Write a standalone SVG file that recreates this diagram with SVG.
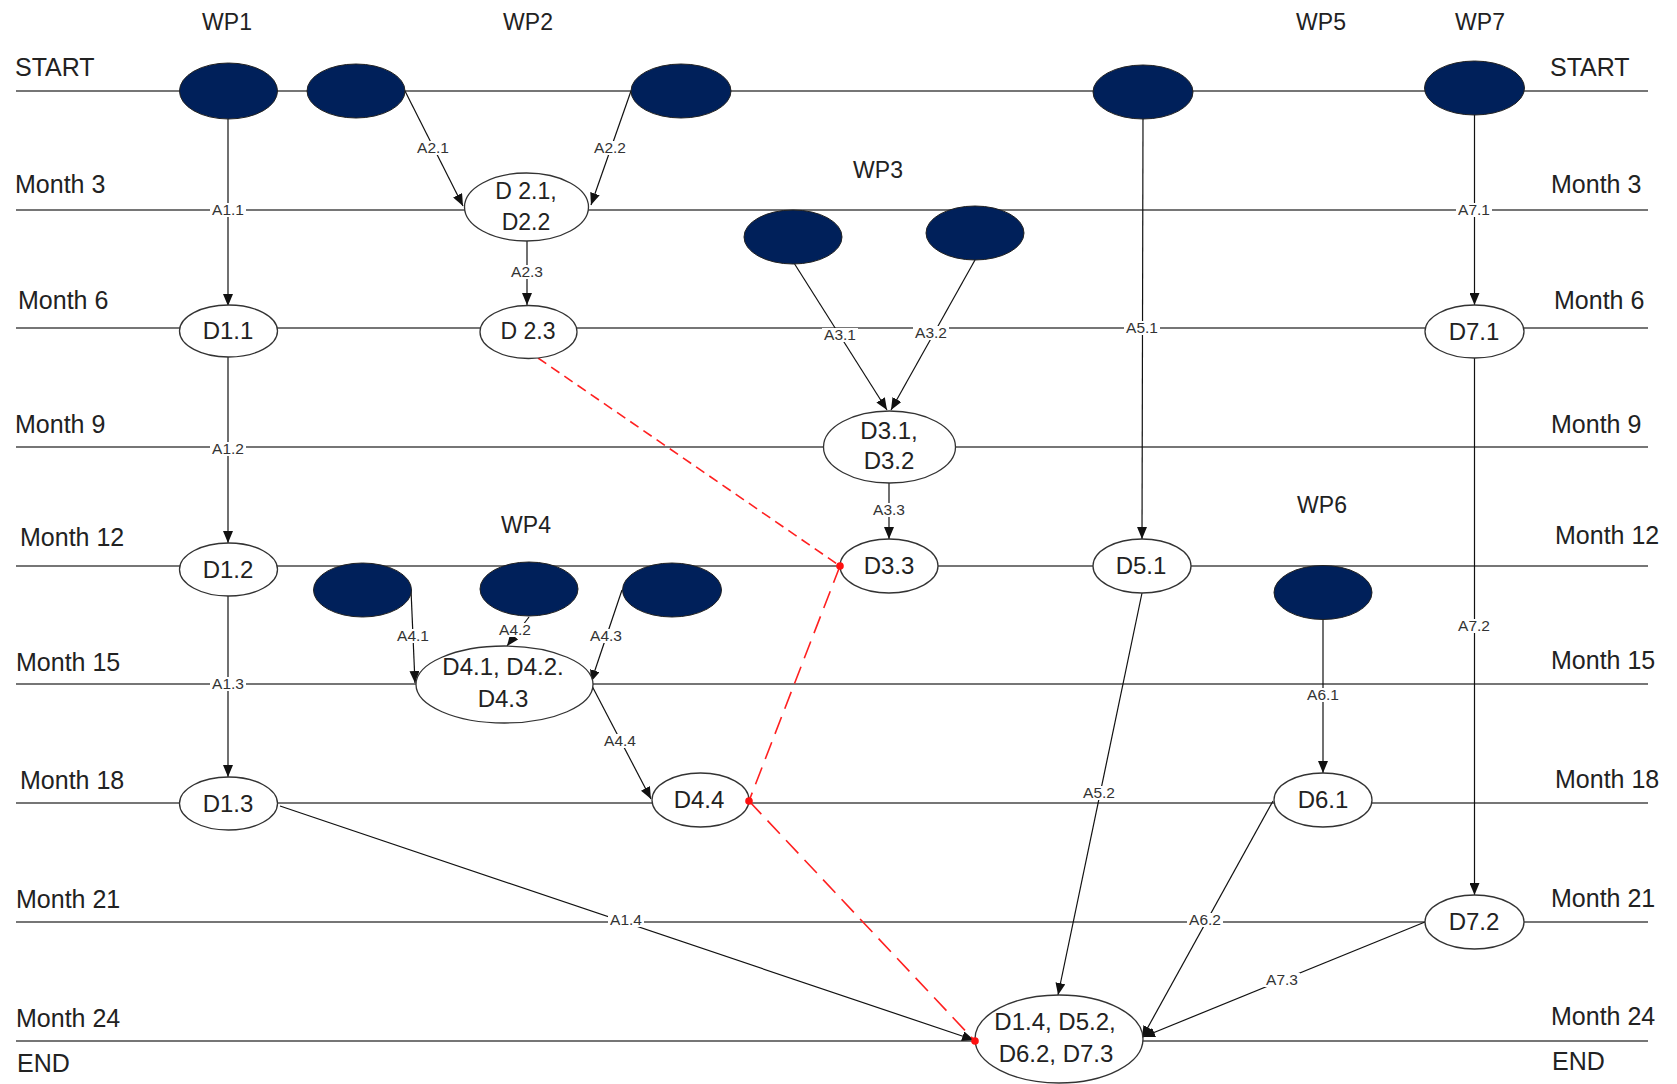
<svg xmlns="http://www.w3.org/2000/svg" width="1677" height="1084" viewBox="0 0 1677 1084">
<defs>
<marker id="ah" markerUnits="userSpaceOnUse" markerWidth="12" markerHeight="10" viewBox="0 0 12 10" refX="12" refY="5" orient="auto">
<path d="M0,0 L12,5 L0,10 Z" fill="#111"/>
</marker>
</defs>
<style>
.row{stroke:#4a4a4a;stroke-width:1.6;fill:none}
.big{font-family:"Liberation Sans",Arial,sans-serif;font-size:25px;fill:#222}
.wp{font-family:"Liberation Sans",Arial,sans-serif;font-size:23px;fill:#222;text-anchor:middle}
.dk{fill:#00205a;stroke:#222;stroke-width:1}
.wt{fill:#fff;stroke:#333;stroke-width:1.3}
.nt{font-family:"Liberation Sans",Arial,sans-serif;font-size:24px;fill:#222;text-anchor:middle}
.cn{stroke:#111;stroke-width:1.2;fill:none;marker-end:url(#ah)}
.cl{font-family:"Liberation Sans",Arial,sans-serif;font-size:15.5px;fill:#333;text-anchor:middle}
.lb{fill:#fff}
.rd{stroke:#ff2020;stroke-width:1.6;fill:none}
.dot{fill:#ff1010}
</style>
<g id="timeline">
<path class="row" d="M16,91H1648M16,210H1648M16,328H1648M16,447H1648M16,566H1648M16,684H1648M16,803H1648M16,922H1648M16,1041H1648"/>
<text class="big" x="15" y="76">START</text>
<text class="big" x="15" y="193">Month 3</text>
<text class="big" x="18" y="309">Month 6</text>
<text class="big" x="15" y="433">Month 9</text>
<text class="big" x="20" y="546">Month 12</text>
<text class="big" x="16" y="671">Month 15</text>
<text class="big" x="20" y="789">Month 18</text>
<text class="big" x="16" y="908">Month 21</text>
<text class="big" x="16" y="1027">Month 24</text>
<text class="big" x="17" y="1072">END</text>
<text class="big" x="1550" y="76">START</text>
<text class="big" x="1551" y="193">Month 3</text>
<text class="big" x="1554" y="309">Month 6</text>
<text class="big" x="1551" y="433">Month 9</text>
<text class="big" x="1555" y="544">Month 12</text>
<text class="big" x="1551" y="669">Month 15</text>
<text class="big" x="1555" y="788">Month 18</text>
<text class="big" x="1551" y="907">Month 21</text>
<text class="big" x="1551" y="1025">Month 24</text>
<text class="big" x="1552" y="1070">END</text>
<text class="wp" x="227" y="30">WP1</text>
<text class="wp" x="528" y="30">WP2</text>
<text class="wp" x="878" y="178">WP3</text>
<text class="wp" x="526" y="533">WP4</text>
<text class="wp" x="1321" y="30">WP5</text>
<text class="wp" x="1322" y="513">WP6</text>
<text class="wp" x="1480" y="30">WP7</text>
</g>
<g id="connectors">
<path class="cn" d="M228,119 L228,306"/>
<path class="cn" d="M228,357 L228,543"/>
<path class="cn" d="M228,596 L228,777"/>
<path class="cn" d="M280,806 L974,1040"/>
<path class="cn" d="M405,91 L463,206"/>
<path class="cn" d="M631,91 L591,205"/>
<path class="cn" d="M527,241 L527,305"/>
<path class="cn" d="M794,263 L887,410"/>
<path class="cn" d="M975,260 L891,410"/>
<path class="cn" d="M889,483 L889,539"/>
<path class="cn" d="M411,590 L415,683"/>
<path class="cn" d="M529,617 L507,646"/>
<path class="cn" d="M622,590 L591,682"/>
<path class="cn" d="M591,684 L651,799"/>
<path class="cn" d="M1143,119 L1142,539"/>
<path class="cn" d="M1142,593 L1058,995"/>
<path class="cn" d="M1323,619 L1323,773"/>
<path class="cn" d="M1273,801 L1142,1038"/>
<path class="cn" d="M1474.5,115 L1474.5,305"/>
<path class="cn" d="M1474.5,358 L1474.5,895"/>
<path class="cn" d="M1425,922 L1143,1037"/>
<path class="rd" stroke-dasharray="10,6" d="M538,358 L840,566"/>
<path class="rd" stroke-dasharray="18,9" d="M840,566 L749,801"/>
<path class="rd" stroke-dasharray="18,9" d="M749,801 L975,1041"/>
<g id="labels">
<rect class="lb" x="210" y="203" width="36" height="14"/><text class="cl" x="228" y="215">A1.1</text>
<rect class="lb" x="210" y="442" width="36" height="14"/><text class="cl" x="228" y="454">A1.2</text>
<rect class="lb" x="210" y="677" width="36" height="14"/><text class="cl" x="228" y="689">A1.3</text>
<rect class="lb" x="608" y="913" width="36" height="14"/><text class="cl" x="626" y="925">A1.4</text>
<rect class="lb" x="415" y="141" width="36" height="14"/><text class="cl" x="433" y="153">A2.1</text>
<rect class="lb" x="592" y="141" width="36" height="14"/><text class="cl" x="610" y="153">A2.2</text>
<rect class="lb" x="509" y="265" width="36" height="14"/><text class="cl" x="527" y="277">A2.3</text>
<rect class="lb" x="822" y="328" width="36" height="14"/><text class="cl" x="840" y="340">A3.1</text>
<rect class="lb" x="913" y="326" width="36" height="14"/><text class="cl" x="931" y="338">A3.2</text>
<rect class="lb" x="871" y="503" width="36" height="14"/><text class="cl" x="889" y="515">A3.3</text>
<rect class="lb" x="395" y="629" width="36" height="14"/><text class="cl" x="413" y="641">A4.1</text>
<rect class="lb" x="497" y="623" width="36" height="14"/><text class="cl" x="515" y="635">A4.2</text>
<rect class="lb" x="588" y="629" width="36" height="14"/><text class="cl" x="606" y="641">A4.3</text>
<rect class="lb" x="602" y="734" width="36" height="14"/><text class="cl" x="620" y="746">A4.4</text>
<rect class="lb" x="1124" y="321" width="36" height="14"/><text class="cl" x="1142" y="333">A5.1</text>
<rect class="lb" x="1081" y="786" width="36" height="14"/><text class="cl" x="1099" y="798">A5.2</text>
<rect class="lb" x="1305" y="688" width="36" height="14"/><text class="cl" x="1323" y="700">A6.1</text>
<rect class="lb" x="1187" y="913" width="36" height="14"/><text class="cl" x="1205" y="925">A6.2</text>
<rect class="lb" x="1456" y="203" width="36" height="14"/><text class="cl" x="1474" y="215">A7.1</text>
<rect class="lb" x="1456" y="619" width="36" height="14"/><text class="cl" x="1474" y="631">A7.2</text>
<rect class="lb" x="1264" y="973" width="36" height="14"/><text class="cl" x="1282" y="985">A7.3</text>
</g>
</g>
<g id="wp1-start"><ellipse class="dk" cx="228.5" cy="91" rx="49" ry="28"/></g>
<g id="wp2-start-a"><ellipse class="dk" cx="356" cy="91" rx="49" ry="27"/></g>
<g id="wp2-start-b"><ellipse class="dk" cx="681" cy="91" rx="50" ry="27"/></g>
<g id="wp5-start"><ellipse class="dk" cx="1143" cy="92" rx="50" ry="27"/></g>
<g id="wp7-start"><ellipse class="dk" cx="1474.5" cy="88" rx="50" ry="27"/></g>
<g id="wp3-start-a"><ellipse class="dk" cx="793" cy="237" rx="49" ry="27"/></g>
<g id="wp3-start-b"><ellipse class="dk" cx="975" cy="233" rx="49" ry="27"/></g>
<g id="wp4-start-a"><ellipse class="dk" cx="362.5" cy="590" rx="49" ry="27"/></g>
<g id="wp4-start-b"><ellipse class="dk" cx="529" cy="589" rx="49" ry="27"/></g>
<g id="wp4-start-c"><ellipse class="dk" cx="672" cy="590" rx="49.5" ry="27"/></g>
<g id="wp6-start"><ellipse class="dk" cx="1323" cy="592.5" rx="49" ry="27"/></g>
<g id="d21"><ellipse class="wt" cx="526.5" cy="207" rx="62" ry="34"/><text class="nt" style="font-size:23px" x="526" y="199">D 2.1,</text><text class="nt" style="font-size:23px" x="526" y="230">D2.2</text></g>
<g id="d23"><ellipse class="wt" cx="528.5" cy="332" rx="48.5" ry="26.5"/><text class="nt" style="font-size:23px" x="528" y="339">D 2.3</text></g>
<g id="d11"><ellipse class="wt" cx="228.5" cy="331" rx="49" ry="26"/><text class="nt" x="228" y="339">D1.1</text></g>
<g id="d12"><ellipse class="wt" cx="228.5" cy="569.5" rx="49" ry="26.5"/><text class="nt" x="228" y="578">D1.2</text></g>
<g id="d13"><ellipse class="wt" cx="228.5" cy="803.5" rx="49" ry="26.5"/><text class="nt" x="228" y="812">D1.3</text></g>
<g id="d31"><ellipse class="wt" cx="889.5" cy="447" rx="66" ry="36"/><text class="nt" x="889" y="439">D3.1,</text><text class="nt" x="889" y="469">D3.2</text></g>
<g id="d33"><ellipse class="wt" cx="889" cy="566" rx="49" ry="27"/><text class="nt" x="889" y="574">D3.3</text></g>
<g id="d51"><ellipse class="wt" cx="1142" cy="566" rx="49" ry="27"/><text class="nt" x="1141" y="574">D5.1</text></g>
<g id="d41"><ellipse class="wt" cx="504.5" cy="684.5" rx="88.5" ry="38.5"/><text class="nt" x="503" y="675">D4.1, D4.2.</text><text class="nt" x="503" y="707">D4.3</text></g>
<g id="d44"><ellipse class="wt" cx="700.5" cy="800" rx="48.5" ry="27"/><text class="nt" x="699" y="808">D4.4</text></g>
<g id="d61"><ellipse class="wt" cx="1323" cy="800" rx="49" ry="27"/><text class="nt" x="1323" y="808">D6.1</text></g>
<g id="d71"><ellipse class="wt" cx="1474.5" cy="331.5" rx="49.5" ry="26.5"/><text class="nt" x="1474" y="340">D7.1</text></g>
<g id="d72"><ellipse class="wt" cx="1474.5" cy="922" rx="49.5" ry="27"/><text class="nt" x="1474" y="930">D7.2</text></g>
<g id="final"><ellipse class="wt" cx="1059" cy="1039" rx="84" ry="44"/><text class="nt" x="1055" y="1030">D1.4, D5.2,</text><text class="nt" x="1056" y="1062">D6.2, D7.3</text></g>
<g id="red-dots">
<circle class="dot" cx="840" cy="566" r="3.8"/>
<circle class="dot" cx="749" cy="801" r="3.8"/>
<circle class="dot" cx="975" cy="1041" r="3.8"/>
</g>
</svg>
